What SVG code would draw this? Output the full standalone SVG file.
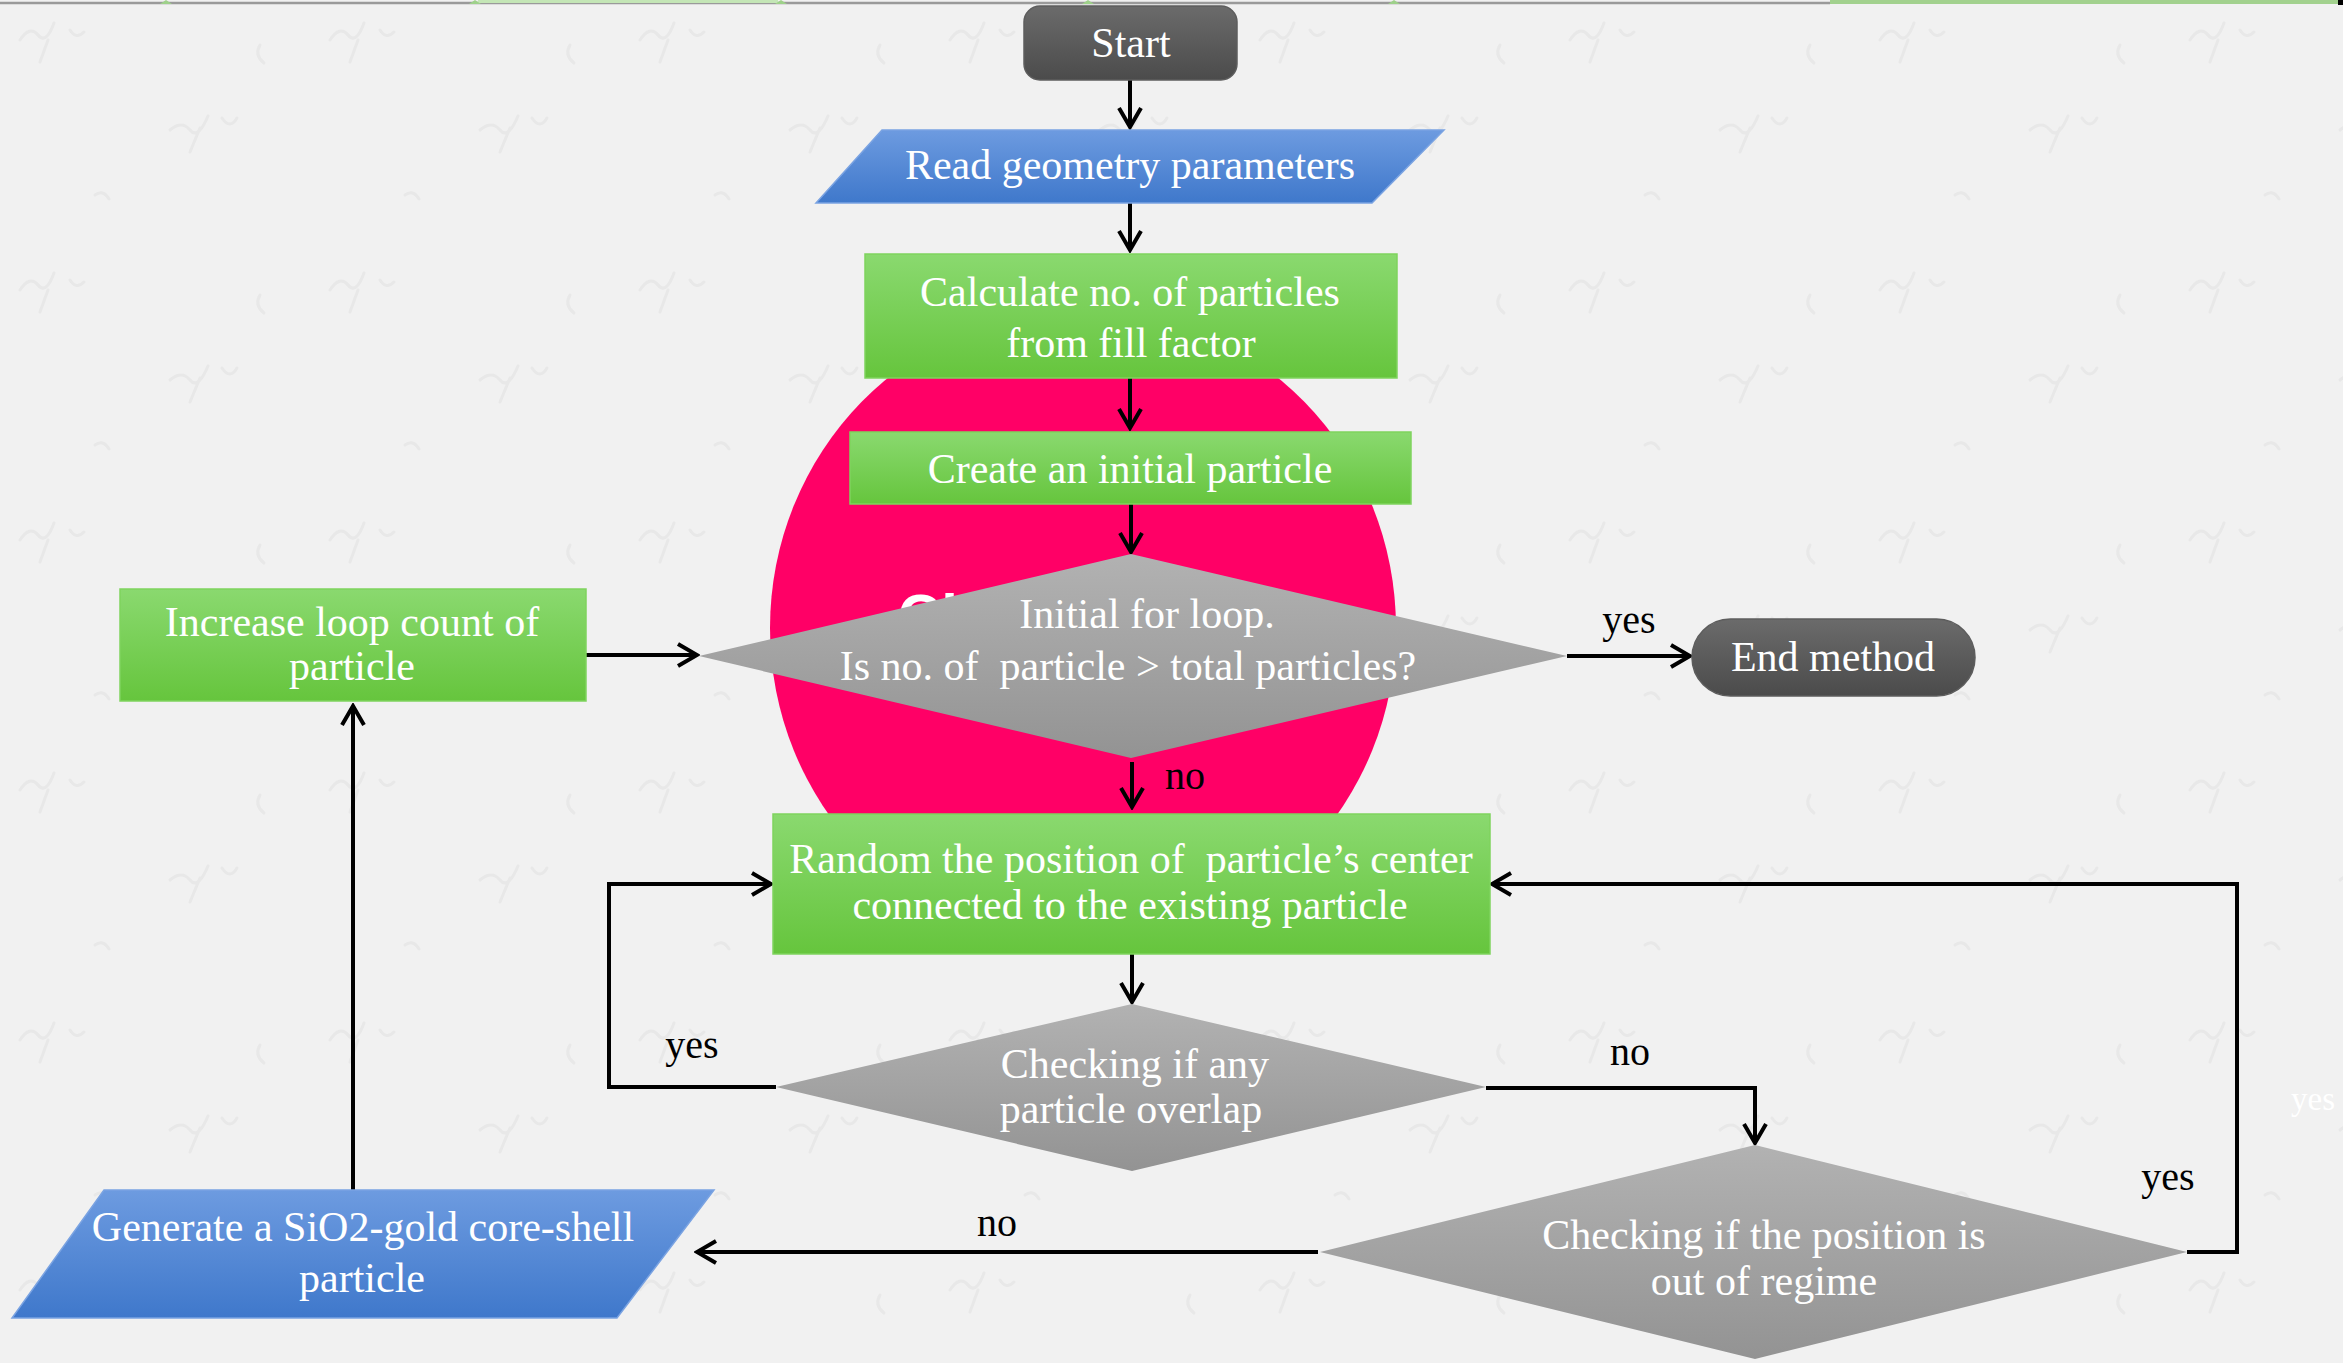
<svg xmlns="http://www.w3.org/2000/svg" width="2343" height="1363" viewBox="0 0 2343 1363">
<defs>
<linearGradient id="gGreen" x1="0" y1="0" x2="0" y2="1"><stop offset="0" stop-color="#8ad96f"/><stop offset="1" stop-color="#66c53d"/></linearGradient>
<linearGradient id="gBlue" x1="0" y1="0" x2="0" y2="1"><stop offset="0" stop-color="#6d9be0"/><stop offset="1" stop-color="#3f78cb"/></linearGradient>
<linearGradient id="gGray" x1="0" y1="0" x2="0" y2="1"><stop offset="0" stop-color="#b2b2b2"/><stop offset="1" stop-color="#939393"/></linearGradient>
<linearGradient id="gDark" x1="0" y1="0" x2="0" y2="1"><stop offset="0" stop-color="#6b6b6b"/><stop offset="1" stop-color="#4b4b4b"/></linearGradient>
<pattern id="marble" patternUnits="userSpaceOnUse" width="310" height="250">
<g fill="none" stroke="#e0e0e0" stroke-width="3" stroke-linecap="round" opacity="0.55">
<path d="M20,40 q10,-15 18,-5 t16,-12 M40,62 l8,-22 M70,30 q6,10 14,2"/>
<path d="M170,130 q12,-10 20,0 t18,-14 M190,152 l10,-24 M222,118 q8,12 15,0"/>
<path d="M95,195 q8,-6 14,4 M260,45 q-6,10 4,18"/>
</g>
</pattern>
<marker id="arr" markerUnits="userSpaceOnUse" viewBox="0 0 24 26" markerWidth="24" markerHeight="26" refX="21" refY="13" orient="auto">
<path d="M2,2 L21,13 L2,24" fill="none" stroke="#000" stroke-width="4"/>
</marker>
<style>
.t{font-family:"Liberation Serif","Times New Roman",serif;font-size:42px;fill:#fff;text-anchor:middle}
.l{font-family:"Liberation Serif","Times New Roman",serif;font-size:40px;fill:#000;text-anchor:middle}
.green{fill:url(#gGreen);stroke:#7fd35e;stroke-width:1.5}
.blue{fill:url(#gBlue);stroke:#7aa3e2;stroke-width:1.5}
.gray{fill:url(#gGray)}
.dark{fill:url(#gDark);stroke:#5d5d5d;stroke-width:1.5}
.c{fill:none;stroke:#000;stroke-width:4;marker-end:url(#arr)}
</style>
</defs>
<rect x="0" y="0" width="2343" height="1363" fill="#f1f1f1"/>
<rect x="0" y="0" width="2343" height="1363" fill="url(#marble)"/>
<g id="tabs">
<rect x="0" y="0" width="2343" height="4" fill="#f1f1f1"/>
<line x1="0" y1="3" x2="1830" y2="3" stroke="#9a9a9a" stroke-width="2.5"/>
<rect x="478" y="0" width="300" height="3" fill="#c4e6b6"/>
<rect x="1830" y="0" width="508" height="4" fill="#a2d18e"/>
<rect x="2338" y="0" width="5" height="5" fill="#000"/>
<path d="M160,4 L166,0 L172,4Z M469,4 L475,0 L481,4Z M775,4 L781,0 L787,4Z M1082,4 L1088,0 L1094,4Z M1388,4 L1394,0 L1400,4Z" fill="#9ed18a"/>
</g>
<g id="disc">
<ellipse cx="1083" cy="628" rx="313" ry="320" fill="#ff0066"/>
<text x="898" y="636" font-family="Liberation Sans, Arial, sans-serif" font-weight="bold" font-size="60" fill="#fff">Cl</text>
</g>
<g id="connectors">
<line class="c" x1="1130" y1="80" x2="1130" y2="127"/>
<line class="c" x1="1130" y1="203" x2="1130" y2="250"/>
<line class="c" x1="1130" y1="378" x2="1130" y2="428"/>
<line class="c" x1="1131" y1="504" x2="1131" y2="552"/>
<line class="c" x1="1132" y1="762" x2="1132" y2="807"/>
<line class="c" x1="1567" y1="656" x2="1690" y2="656"/>
<line class="c" x1="586" y1="655" x2="697" y2="655"/>
<line class="c" x1="353" y1="1190" x2="353" y2="706"/>
<line class="c" x1="1132" y1="954" x2="1132" y2="1002"/>
<polyline class="c" points="776,1087 609,1087 609,884 771,884"/>
<polyline class="c" points="1486,1088 1755,1088 1755,1143"/>
<polyline class="c" points="2187,1252 2237,1252 2237,884 1492,884"/>
<line class="c" x1="1318" y1="1252" x2="697" y2="1252"/>
</g>
<g id="start">
<rect class="dark" x="1024" y="6" width="213" height="74" rx="16"/>
<text class="t" x="1131" y="57">Start</text>
</g>
<g id="read">
<polygon class="blue" points="882,130 1444,130 1372,203 816,203"/>
<text class="t" x="1130" y="179">Read geometry parameters</text>
</g>
<g id="calc">
<rect class="green" x="865" y="254" width="532" height="124"/>
<text class="t" x="1130" y="306">Calculate no. of particles</text>
<text class="t" x="1131" y="357">from fill factor</text>
</g>
<g id="create">
<rect class="green" x="850" y="432" width="561" height="72"/>
<text class="t" x="1130" y="483">Create an initial particle</text>
</g>
<g id="loop">
<polygon class="gray" points="1131,554 1567,656 1131,758 699,656"/>
<text class="t" x="1147" y="628">Initial for loop.</text>
<text class="t" x="1128" y="680" xml:space="preserve">Is no. of  particle &gt; total particles?</text>
</g>
<g id="end">
<rect class="dark" x="1692" y="619" width="283" height="77" rx="38.5"/>
<text class="t" x="1833" y="671">End method</text>
</g>
<g id="increase">
<rect class="green" x="120" y="589" width="466" height="112"/>
<text class="t" x="352" y="636">Increase loop count of</text>
<text class="t" x="352" y="680">particle</text>
</g>
<g id="random">
<rect class="green" x="773" y="814" width="717" height="140"/>
<text class="t" x="1131" y="873" xml:space="preserve">Random the position of  particle’s center</text>
<text class="t" x="1130" y="919">connected to the existing particle</text>
</g>
<g id="overlap">
<polygon class="gray" points="1132,1004 1486,1087 1132,1171 776,1087"/>
<text class="t" x="1135" y="1078">Checking if any</text>
<text class="t" x="1131" y="1123">particle overlap</text>
</g>
<g id="regime">
<polygon class="gray" points="1755,1145 2187,1252 1755,1359 1320,1252"/>
<text class="t" x="1764" y="1249">Checking if the position is</text>
<text class="t" x="1764" y="1295">out of regime</text>
</g>
<g id="generate">
<polygon class="blue" points="104,1190 714,1190 617,1318 12,1318"/>
<text class="t" x="363" y="1241">Generate a SiO2-gold core-shell</text>
<text class="t" x="362" y="1292">particle</text>
</g>
<g id="labels">
<text class="l" x="1629" y="633">yes</text>
<text class="l" x="1185" y="789">no</text>
<text class="l" x="692" y="1058">yes</text>
<text class="l" x="1630" y="1065">no</text>
<text class="l" x="2168" y="1190">yes</text>
<text class="l" x="997" y="1236">no</text>
<text class="l" x="2313" y="1110" style="fill:#fff;font-size:33px">yes</text>
</g>
</svg>
